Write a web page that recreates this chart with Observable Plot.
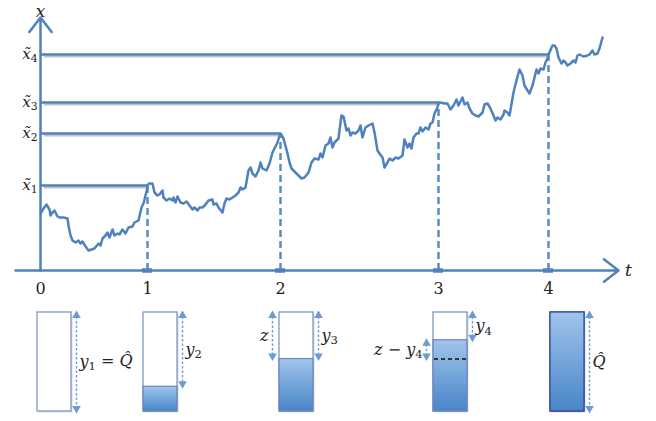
<!DOCTYPE html>
<html><head><meta charset="utf-8">
<script src="https://cdn.jsdelivr.net/npm/d3@7"></script>
<script src="https://cdn.jsdelivr.net/npm/@observablehq/plot@0.6"></script>
<style>body{margin:0;background:#fff} svg text{font-family:"DejaVu Serif","Liberation Serif",serif !important}</style>
</head><body><div id="chart"></div>
<script>
// ---- data (time in steps, level in units) ----
const walkT = [0,3,6,9,10,12,14,17,19,23,27,28,30,32,35,38,40,42,45,48,51,54,58,60,62,65,67,69,72,74,77,79,82,85,88,92,94,98,101,103,105,106.5,107,108.5,112,114,117,119,122,123,126,129,132,133,135,137,140,143,146,149,152,154,157,159,162,165,168,172,173,176,178,182,184,186,189,192,195,198,200,202,205,208,210,212,215,218,220,222,226,229,232,234,237,238.5,240,243,247,249,251,254,258,261,264,268,271,274,278,280,282,285,288,290,292,294,298,299,301,303,306,308,310,312,315,318,320,322,325,328,332,334,337,339,342,344,347,349,352,355,358,362,364,367,369,371,373,376,378,380,382,385,388,390,392,394,397,398,400,404,407,410,413,416,418,422,424,427,429,432,435,438,442,444,447,450,453,455,457,460,463,464,467,469,473,476,479,482,484,487,489,492,494,496,498,500,503,505,507,508,512,514,516,518,521,523,525,527,530,533,535,537,539,543,547,549,552,554,557,559,562];
const walkX = [57,62,66,61,55,58,60,54,53,53,52,45,35,30,28,30,27,29,24,20,21,22,27,25,32,35,38,33,41,35,37,36,41,37,43,44,48,50,63,67,75,81,85,87,87,78,75,76,80,73,70,72,70,73,68,74,68,67,69,65,61,63,60,63,63,66,70,71,66,67,63,58,67,72,71,73,75,78,83,81,83,100,103,97,94,100,108,102,100,107,118,122,128,133,137,132,117,108,102,99,95,92,93,98,108,112,111,117,113,125,127,133,123,128,132,140,155,154,140,142,135,138,137,140,145,133,143,145,147,138,120,117,113,103,108,112,110,113,112,115,131,123,127,122,133,137,137,143,139,143,141,147,148,157,163,168,168,167,167,161,165,171,165,173,166,168,162,157,155,154,158,166,167,162,155,150,153,151,156,160,158,155,178,190,201,195,185,180,177,185,193,201,197,202,201,208,212,216,225,225,222,213,207,210,208,205,207,210,208,215,216,214,215,216,220,216,217,222,233];
const hitTimes  = [107, 240, 398, 508];
const hitLevels = [85, 137, 168, 216];
const hitLabels = ["x̃_{1}", "x̃_{2}", "x̃_{3}", "x̃_{4}"];
const tickTimes  = [0, 107, 240, 398, 508];
const tickLabels = ["0", "1", "2", "3", "4"];
// tanks: empty share y_i / Q̂, and z / Q̂
const tankEmpty = [1, 0.75, 0.47, 0.28, 0];
const zShare = 0.47;
const tankArrowLabels = ["y_{1} = Q̂", "y_{2}", "z", "y_{3}", "y_{4}", "z − y_{4}", "Q̂"];

// ---- layout ----
const L = {
  tankLeft: [-3, 103, 239, 393, 510], tankW: 34,
  tankBottom: -141, tankH: 99,
  axisT: [-25, 578], axisTop: 253,
  blue: "#4f81bd", dash: "#5b8cc4", arrowC: "#6b9bd2",
  font: "DejaVu Serif"
};
const tankTop = L.tankBottom + L.tankH;
const lvl = f => tankTop - L.tankH * f;

const walk = walkT.map((t, i) => ({t, x: walkX[i]}));
const hits = hitTimes.map((t, i) => ({t, level: hitLevels[i], label: hitLabels[i]}));
const ticks = tickTimes.map((t, i) => ({t, label: tickLabels[i]}));
const tanks = tankEmpty.map((e, i) => ({
  i, x1: L.tankLeft[i], x2: L.tankLeft[i] + L.tankW,
  y1: L.tankBottom, y2: tankTop, fillTop: lvl(e)
}));
const arrowSpec = [
  {k: 0, side: "r", a: 0, b: tankEmpty[0]},
  {k: 1, side: "r", a: 0, b: tankEmpty[1]},
  {k: 2, side: "l", a: 0, b: zShare},
  {k: 2, side: "r", a: 0, b: tankEmpty[2]},
  {k: 3, side: "r", a: 0, b: tankEmpty[3]},
  {k: 3, side: "l", a: tankEmpty[3], b: zShare},
  {k: 4, side: "r", a: 0, b: 1}
];
const arrows = arrowSpec.map((d, i) => ({
  ...d, label: tankArrowLabels[i],
  x: d.side === "r" ? L.tankLeft[d.k] + L.tankW + 5 : L.tankLeft[d.k] - 7,
  ya: lvl(d.a), yb: lvl(d.b), ym: (lvl(d.a) + lvl(d.b)) / 2
}));

const svg = Plot.plot({
  width: 656, height: 421, margin: 0,
  x: {domain: [-40, 616], axis: null},
  y: {domain: [-151, 270], axis: null},
  style: {background: "white", fontFamily: L.font},
  marks: [
    Plot.ruleY(hits, {y: "level", x1: () => 4, x2: "t", stroke: "#999", strokeWidth: 2, strokeOpacity: 0.6, dy: 2}),
    Plot.ruleY(hits, {y: "level", x1: () => 0, x2: "t", stroke: L.blue, strokeWidth: 2.5}),
    Plot.ruleX(hits, {x: "t", y1: () => 0, y2: "level", stroke: L.dash, strokeWidth: 2.5, strokeDasharray: "7,4"}),
    Plot.arrow([0], {x1: () => L.axisT[0], x2: () => L.axisT[1], y1: () => 0, y2: () => 0, stroke: L.blue, strokeWidth: 2.5, headLength: 11, headAngle: 75}),
    Plot.arrow([0], {x1: () => 0, x2: () => 0, y1: () => 0, y2: () => L.axisTop, stroke: L.blue, strokeWidth: 2.5, headLength: 11, headAngle: 75}),
    Plot.ruleY(hits, {y: () => 0, x1: d => d.t - 5, x2: d => d.t + 5, stroke: L.blue, strokeWidth: 4.5}),
    Plot.line(walk, {x: "t", y: "x", stroke: L.blue, strokeWidth: 2.5, strokeLinejoin: "round"}),
    Plot.text(ticks, {x: "t", y: () => 0, dy: 18, text: "label", fontSize: 16, fill: "#222"}),
    Plot.text(hits, {x: () => -3, y: "level", text: "label", textAnchor: "end", fontSize: 15, fontStyle: "italic", fill: "#222"}),
    Plot.text(["x"], {x: () => 0, y: () => 259, text: d => d, fontSize: 17, fontStyle: "italic", fill: "#222"}),
    Plot.text(["t"], {x: () => 588, y: () => 0, text: d => d, fontSize: 17, fontStyle: "italic", fill: "#222"}),
    Plot.rect(tanks, {x1: "x1", x2: "x2", y1: "y1", y2: "y2", fill: "#c4c4c4", fillOpacity: 0.6, dx: 1.5, dy: 1.5}),
    Plot.rect(tanks, {x1: "x1", x2: "x2", y1: "y1", y2: "y2", fill: "white", stroke: d => d.i === 4 ? "#2f45a3" : "#7d98c4", strokeWidth: 1.3}),
    Plot.rect(tanks.filter(d => d.fillTop > d.y1 + 0.01), {x1: "x1", x2: "x2", y1: "y1", y2: "fillTop", fill: "url(#tankGrad)", stroke: d => d.i === 4 ? "#2f45a3" : "#6a86b8", strokeWidth: 1.2}),
    Plot.ruleY([lvl(zShare)], {x1: () => L.tankLeft[3] + 1, x2: () => L.tankLeft[3] + L.tankW - 1, stroke: "#111", strokeWidth: 1.5, strokeDasharray: "4,3"}),
    Plot.ruleX(arrows, {x: "x", y1: "ya", y2: "yb", stroke: L.arrowC, strokeWidth: 1.4, strokeDasharray: "2.5,2"}),
    Plot.dot(arrows, {x: "x", y: "ya", symbol: "triangle", r: 3.2, fill: L.arrowC, dy: 3}),
    Plot.dot(arrows, {x: "x", y: "yb", symbol: "triangle", r: 3.2, fill: L.arrowC, rotate: 180, dy: -3}),
    Plot.text(arrows.filter(d => d.side === "r"), {x: d => d.x + 3, y: "ym", text: "label", textAnchor: "start", fontSize: 16, fontStyle: "italic", fill: "#222"}),
    Plot.text(arrows.filter(d => d.side === "l"), {x: d => d.x - 4, y: "ym", text: "label", textAnchor: "end", fontSize: 16, fontStyle: "italic", fill: "#222"})
  ]
});
const defs = d3.select(svg).insert("defs", ":first-child");
const g = defs.append("linearGradient").attr("id", "tankGrad").attr("x1", 0).attr("y1", 0).attr("x2", 0).attr("y2", 1);
g.append("stop").attr("offset", "0%").attr("stop-color", "#a0c5eb");
g.append("stop").attr("offset", "100%").attr("stop-color", "#4885c8");
// turn _{..} into real subscripts; keep "=" and "−" upright
d3.select(svg).selectAll("text").each(function () {
  const s = this.textContent;
  if (!/_\{|[=−]/.test(s)) return;
  const parts = s.split(/(_\{[^}]*\}|\s*[=−]\s*)/).filter(p => p !== "");
  this.textContent = "";
  let reset = false;
  for (const p of parts) {
    const ts = d3.select(this).append("tspan");
    if (reset) { ts.attr("dy", "-0.28em"); reset = false; }
    if (p.startsWith("_{")) {
      ts.text(p.slice(2, -1)).attr("font-size", "0.72em").attr("font-style", "normal").attr("dy", "0.28em");
      reset = true;
    } else if (/[=−]/.test(p)) {
      ts.text("\u00a0" + p.trim() + "\u00a0").attr("font-style", "normal");
    } else ts.text(p);
  }
});
document.getElementById("chart").appendChild(svg);
</script>
</body></html>
